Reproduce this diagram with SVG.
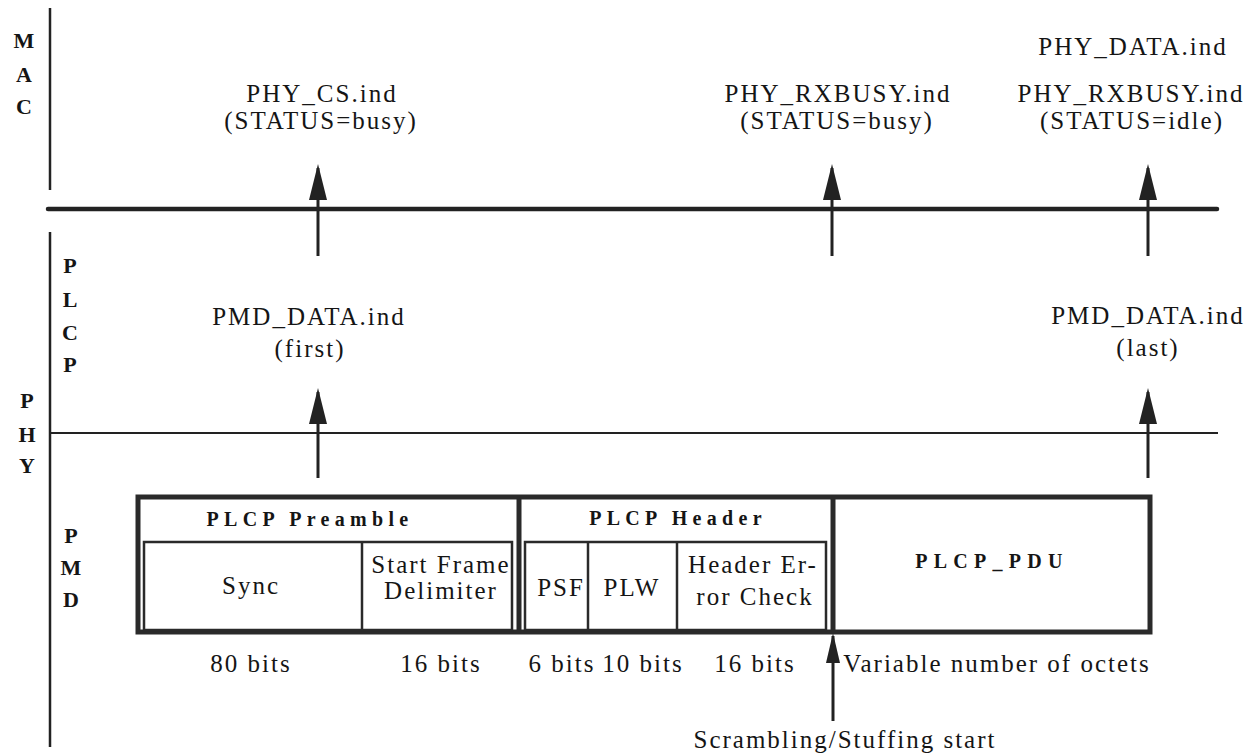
<svg xmlns="http://www.w3.org/2000/svg" width="1258" height="755" viewBox="0 0 1258 755">
  <style>
    text { font-family: "Times New Roman", "Liberation Serif", "DejaVu Serif", serif; fill: #151515; text-anchor: middle; }
    .t { font-size: 25px; letter-spacing: 2px; }
    .b { font-size: 20px; font-weight: bold; letter-spacing: 5.3px; }
    .s { font-size: 22px; font-weight: bold; }
    .ln { stroke: #222; fill: none; }
    .arr { stroke: #222; stroke-width: 3; fill: none; }
    .thick { stroke: #2a2a2a; stroke-width: 5; fill: none; }
    .thin { stroke: #2a2a2a; stroke-width: 2.5; fill: none; }
  </style>
  <defs>
    <marker id="ah" viewBox="0 0 36 18" refX="32" refY="9" markerWidth="36" markerHeight="18" orient="auto" markerUnits="userSpaceOnUse">
      <path d="M0,0 L36,9 L0,18 Z" fill="#222"/>
    </marker>
    <marker id="ahs" viewBox="0 0 30 14" refX="27" refY="7" markerWidth="30" markerHeight="14" orient="auto" markerUnits="userSpaceOnUse">
      <path d="M0,0 L30,7 L0,14 Z" fill="#222"/>
    </marker>
  </defs>
  <rect width="1258" height="755" fill="#fff"/>

  <g id="layers">
    <line class="ln" x1="50" y1="8" x2="50" y2="190" stroke-width="2.5"/>
    <line class="ln" x1="50" y1="232" x2="50" y2="747" stroke-width="2.5"/>
    <line class="ln" x1="48" y1="209" x2="1217" y2="209" stroke-width="4.5" stroke-linecap="round"/>
    <line class="ln" x1="50" y1="433" x2="1218" y2="433" stroke-width="2"/>
  </g>

  <g id="layer-labels">
    <text class="s" x="24" y="48">M</text>
    <text class="s" x="24" y="82">A</text>
    <text class="s" x="24" y="114">C</text>
    <text class="s" x="70" y="273">P</text>
    <text class="s" x="70" y="307">L</text>
    <text class="s" x="70" y="340">C</text>
    <text class="s" x="70" y="372">P</text>
    <text class="s" x="27" y="408">P</text>
    <text class="s" x="27" y="442">H</text>
    <text class="s" x="27" y="473">Y</text>
    <text class="s" x="71" y="543">P</text>
    <text class="s" x="71" y="575">M</text>
    <text class="s" x="71" y="607">D</text>
  </g>

  <g id="primitive-labels">
    <text class="t" x="322" y="102">PHY_CS.ind</text>
    <text class="t" x="321" y="129">(STATUS=busy)</text>
    <text class="t" x="838" y="102">PHY_RXBUSY.ind</text>
    <text class="t" x="837" y="129">(STATUS=busy)</text>
    <text class="t" x="1133" y="55">PHY_DATA.ind</text>
    <text class="t" x="1131" y="102">PHY_RXBUSY.ind</text>
    <text class="t" x="1132" y="129">(STATUS=idle)</text>
    <text class="t" x="309" y="325">PMD_DATA.ind</text>
    <text class="t" x="310" y="357">(first)</text>
    <text class="t" x="1148" y="324">PMD_DATA.ind</text>
    <text class="t" x="1148" y="356">(last)</text>
  </g>

  <g id="connectors">
    <line class="arr" x1="318" y1="256" x2="318" y2="168" marker-end="url(#ah)"/>
    <line class="arr" x1="832" y1="256" x2="832" y2="168" marker-end="url(#ah)"/>
    <line class="arr" x1="1148" y1="256" x2="1148" y2="168" marker-end="url(#ah)"/>
    <line class="arr" x1="318" y1="478" x2="318" y2="392" marker-end="url(#ah)"/>
    <line class="arr" x1="1148" y1="478" x2="1148" y2="392" marker-end="url(#ah)"/>
    <line class="arr" x1="833" y1="721" x2="833" y2="636" marker-end="url(#ahs)"/>
  </g>

  <g id="frame">
    <rect class="thick" x="138" y="497" width="1012" height="135"/>
    <line class="thick" x1="519" y1="497" x2="519" y2="632"/>
    <line class="thick" x1="833" y1="497" x2="833" y2="632"/>
  </g>

  <g id="plcp-preamble">
    <rect class="thin" x="144" y="542" width="368" height="88"/>
    <line class="thin" x1="362" y1="542" x2="362" y2="630"/>
    <text class="b" x="310" y="526">PLCP Preamble</text>
    <text class="t" x="251" y="594">Sync</text>
    <text class="t" x="441" y="573">Start Frame</text>
    <text class="t" x="441" y="599">Delimiter</text>
  </g>

  <g id="plcp-header">
    <rect class="thin" x="525" y="542" width="301" height="88"/>
    <line class="thin" x1="588" y1="542" x2="588" y2="630"/>
    <line class="thin" x1="677" y1="542" x2="677" y2="630"/>
    <text class="b" x="678" y="525">PLCP Header</text>
    <text class="t" x="561" y="596">PSF</text>
    <text class="t" x="632" y="596">PLW</text>
    <text class="t" x="753" y="573">Header Er-</text>
    <text class="t" x="755" y="605">ror Check</text>
  </g>

  <g id="plcp-pdu">
    <text class="b" x="992" y="568" style="letter-spacing:6.3px">PLCP_PDU</text>
  </g>

  <g id="sizes">
    <text class="t" x="251" y="672">80 bits</text>
    <text class="t" x="441" y="672">16 bits</text>
    <text class="t" x="562" y="672">6 bits</text>
    <text class="t" x="643" y="672">10 bits</text>
    <text class="t" x="755" y="672">16 bits</text>
    <text class="t" x="997" y="672">Variable number of octets</text>
    <text class="t" x="845" y="748">Scrambling/Stuffing start</text>
  </g>
</svg>
